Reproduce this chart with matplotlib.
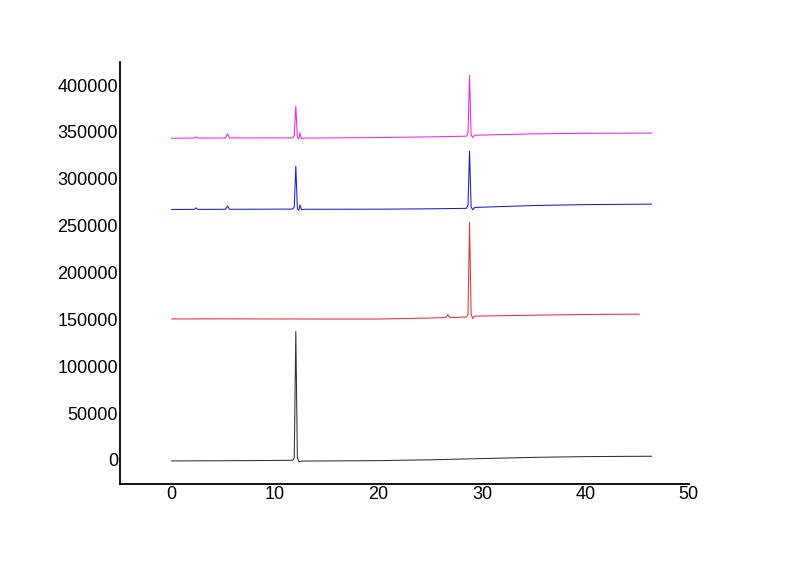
import numpy as np
import matplotlib.pyplot as plt

plt.rcParams['font.family'] = ['Liberation Sans', 'DejaVu Sans']

# retention time (min) and signal
t_black = [0, 5, 10, 11.7, 11.85, 12.0, 12.15, 12.3, 12.5, 15, 20, 25, 30, 35, 40, 46.4]
y_black = [-1000, -800, -500, -300, 2000, 137000, 3000, -2000, -1200, -1000, -700, 200, 1500, 2800, 3600, 4000]

t_red = [0, 5, 10, 15, 20, 25, 26.5, 26.7, 26.9, 28.5, 28.65, 28.8, 28.95, 29.1, 29.3, 35, 40, 45.2]
y_red = [150500, 150600, 150500, 150400, 150400, 151500, 152000, 155000, 152000, 152500, 155000, 253500, 156000, 151000, 153500, 154500, 155300, 155600]

t_blue = [0, 2.2, 2.35, 2.5, 5.2, 5.4, 5.6, 11.7, 11.85, 12.0, 12.15, 12.3, 12.4, 12.55, 12.8, 20, 25, 28.5,
          28.65, 28.8, 28.95, 29.1, 29.3, 35, 40, 46.4]
y_blue = [267300, 267400, 269000, 267400, 267500, 271000, 267500, 267700, 270000, 313500, 268000, 266500, 272000,
          267000, 267500, 267600, 268000, 268500, 272000, 329500, 270000, 267000, 269500, 271500, 272500, 273000]

t_mag = [0, 2.2, 2.35, 2.5, 5.2, 5.4, 5.6, 11.7, 11.85, 12.0, 12.15, 12.3, 12.4, 12.55, 12.8, 20, 25, 28.5,
         28.65, 28.8, 28.95, 29.1, 29.3, 35, 40, 46.4]
y_mag = [343300, 343500, 344800, 343500, 343600, 348000, 343600, 343700, 346000, 377500, 344500, 342500, 349000,
         343000, 343500, 344000, 344800, 345500, 349000, 410500, 347000, 344000, 346500, 348000, 348600, 348800]

fig = plt.figure(figsize=(8, 5.65), dpi=100)
ax = fig.add_axes([0.15, 0.1434, 0.711, 0.7466])

ax.plot(t_black, y_black, color='#303030', lw=0.75)
ax.plot(t_red, y_red, color='#e0303a', lw=0.75)
ax.plot(t_blue, y_blue, color='#1a1acc', lw=0.75)
ax.plot(t_mag, y_mag, color='#ee22ee', lw=0.75)

ax.set_xlim(-5, 50)
ax.set_ylim(-25600, 424500)
ax.set_xticks([0, 10, 20, 30, 40, 50])
ax.set_yticks(np.arange(0, 400001, 50000))
ax.tick_params(length=0, labelsize=13, pad=1.5)
ax.spines['top'].set_visible(False)
ax.spines['right'].set_visible(False)
ax.spines['left'].set_linewidth(1.3)
ax.spines['bottom'].set_linewidth(1.3)

fig.savefig('out.png', dpi=100)
